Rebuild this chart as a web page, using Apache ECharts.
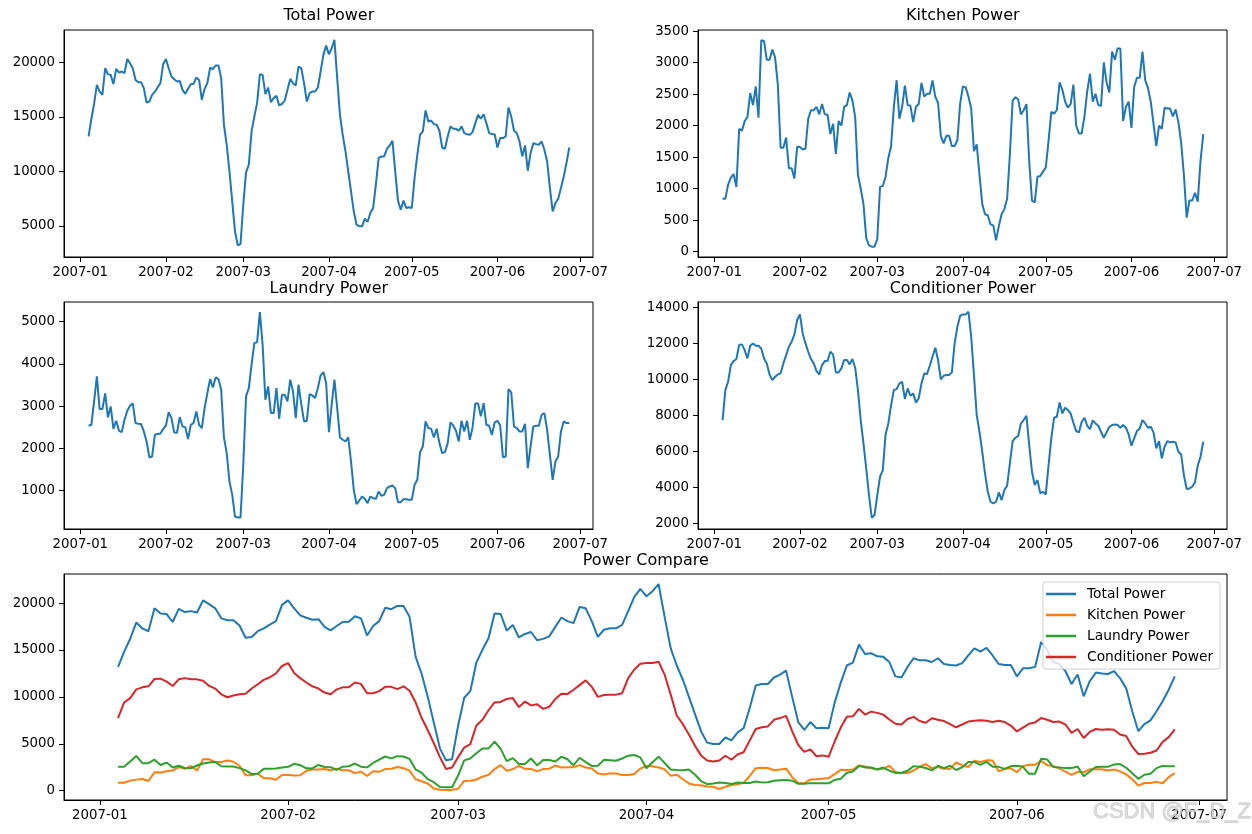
<!DOCTYPE html>
<html>
<head>
<meta charset="utf-8">
<title>Power</title>
<script src="https://cdn.jsdelivr.net/npm/echarts@6.0.0/dist/echarts.min.js"></script>
<style>
  html, body { margin: 0; padding: 0; background: #fff; }
  #chart { width: 1252px; height: 834px; }
</style>
</head>
<body>
<div id="chart"></div>
<script>
// daily values, first day 2007-01-04
const totalPower = [13200, 14800, 16200, 17930, 17300, 17000, 19450, 18900, 18840, 17990,
  19390, 19050, 19150, 19000, 20300, 19900, 19450, 18380, 18170, 18170,
  17620, 16310, 16400, 17010, 17300, 17710, 18080, 19820, 20300, 19450,
  18690, 18440, 18230, 18290, 17470, 17100, 17560, 17990, 18020, 18600,
  18380, 16550, 17560, 18080, 19510, 19360, 19700, 19700, 18540, 14270,
  12440, 10000, 7250, 4510, 3230, 3350, 6950, 9910, 10610, 13660,
  15030, 16250, 18900, 18840, 17070, 17680, 16340, 16710, 16920, 16040,
  16190, 16460, 17470, 18470, 18080, 17870, 19600, 19450, 18080, 16400,
  17160, 17320, 17320, 17680, 19150, 20670, 21520, 20730, 21280, 22040,
  18540, 15180, 13350, 11830, 10000, 8170, 6340, 5120, 4970, 4970,
  5670, 5370, 6190, 6650, 8780, 11220, 11370, 11370, 12070, 12380,
  12800, 10000, 7320, 6490, 7320, 6650, 6710, 6650, 9390, 11520,
  13350, 13660, 15580, 14570, 14660, 14330, 14270, 13720, 12190, 12070,
  13200, 14120, 13900, 13900, 13720, 14120, 13510, 13410, 13350, 13600,
  14420, 15180, 14820, 15240, 14420, 13510, 13410, 13410, 12190, 13050,
  13050, 13200, 15850, 15030, 13720, 13510, 12740, 11370, 12380, 10060,
  11670, 12590, 12500, 12440, 12740, 11980, 10910, 8470, 6340, 7100,
  7500, 8470, 9540, 10760, 12190];

const kitchenPower = [839, 839, 1066, 1174, 1233, 1028, 1948, 1921, 2072, 2137,
  2516, 2326, 2624, 2126, 3354, 3343, 3046, 3046, 3208, 3084,
  2651, 1650, 1650, 1812, 1325, 1325, 1163, 1666, 1661, 1623,
  1634, 2110, 2245, 2245, 2299, 2180, 2343, 2180, 2175, 1866,
  2029, 1553, 2072, 2002, 2299, 2326, 2526, 2397, 2137, 1217,
  1001, 757, 216, 100, 80, 80, 200, 1028, 1044, 1190,
  1488, 1677, 2299, 2721, 2110, 2299, 2635, 2326, 2315, 2056,
  2299, 2343, 2678, 2462, 2505, 2505, 2716, 2462, 2364, 1839,
  1720, 1839, 1839, 1677, 1677, 1769, 2350, 2624, 2608, 2462,
  2272, 1596, 1704, 1217, 757, 595, 579, 433, 417, 179,
  406, 595, 676, 839, 1542, 2397, 2451, 2418, 2180, 2245,
  2343, 1434, 812, 784, 1190, 1201, 1271, 1336, 1758, 2218,
  2191, 2245, 2689, 2570, 2380, 2288, 2343, 2651, 2002, 1877,
  1877, 2148, 2543, 2824, 2380, 2505, 2326, 2315, 3003, 2689,
  2526, 3176, 3046, 3230, 3219, 2072, 2299, 2380, 1964, 2613,
  2759, 2759, 3176, 2721, 2597, 2380, 2029, 1677, 2002, 1948,
  2283, 2272, 2272, 2148, 2256, 2056, 1731, 1217, 541, 812,
  812, 936, 795, 1434, 1866];

const laundryPower = [2535, 2558, 3110, 3702, 2929, 2929, 3300, 2732, 2992, 2464,
  2653, 2416, 2385, 2677, 2890, 3008, 3063, 2598, 2582, 2574,
  2401, 2164, 1786, 1809, 2322, 2338, 2353, 2456, 2543, 2858,
  2716, 2377, 2369, 2740, 2519, 2503, 2219, 2558, 2598, 2874,
  2558, 2480, 2953, 3308, 3639, 3442, 3678, 3639, 3386, 2259,
  1888, 1218, 902, 390, 366, 366, 1612, 3229, 3426, 3978,
  4490, 4506, 5224, 4451, 3150, 3465, 2834, 2834, 3426, 2700,
  3268, 3268, 3110, 3623, 3347, 2716, 3505, 3047, 2637, 2653,
  3284, 3252, 3189, 3426, 3726, 3804, 3544, 2385, 3032, 3623,
  2953, 2259, 2204, 2164, 2259, 1691, 1021, 682, 768, 863,
  808, 705, 863, 823, 808, 981, 879, 902, 1060, 1100,
  1123, 1060, 729, 729, 800, 800, 784, 784, 1139, 1257,
  1912, 2046, 2637, 2480, 2464, 2259, 2464, 2125, 1888, 1912,
  2125, 2614, 2543, 2416, 2164, 2653, 2401, 2653, 2204, 2495,
  3063, 3063, 2756, 3071, 2558, 2535, 2322, 2614, 2653, 2543,
  1793, 1809, 3402, 3323, 2519, 2480, 2401, 2401, 2582, 1533,
  2046, 2519, 2535, 2535, 2795, 2834, 2440, 1849, 1257, 1691,
  1809, 2401, 2637, 2598, 2598];

const conditionerPower = [7741, 9407, 9870, 10796, 11019, 11130, 11908, 11945, 11630, 11167,
  11871, 12000, 11871, 11871, 11722, 11167, 10889, 10278, 9963, 10148,
  10278, 10333, 10889, 11352, 11815, 12093, 12500, 13297, 13611, 12556,
  12000, 11537, 11130, 10889, 10463, 10278, 10796, 11019, 11019, 11537,
  11389, 10389, 10389, 10611, 11074, 11074, 10833, 11130, 10648, 9407,
  7741, 6444, 5055, 3574, 2315, 2463, 3574, 4593, 4963, 6944,
  7555, 8574, 9407, 9463, 9778, 9870, 8907, 9500, 9093, 9222,
  8722, 8944, 9778, 10333, 10296, 10759, 11259, 11759, 11074, 10000,
  10204, 10241, 10241, 10389, 12000, 12926, 13537, 13611, 13611, 13759,
  12370, 10241, 8018, 7092, 5981, 4778, 3759, 3204, 3111, 3204,
  3722, 3296, 3852, 4093, 5333, 6574, 6759, 6852, 7555, 7741,
  7981, 6352, 4870, 4130, 4407, 3667, 3759, 3611, 5241, 6722,
  7870, 7926, 8722, 8111, 8426, 8296, 8111, 7593, 7130, 7055,
  7648, 7870, 7426, 7241, 7722, 7555, 7426, 7092, 6759, 7055,
  7370, 7463, 7500, 7463, 7315, 7463, 7315, 6944, 6315, 6722,
  7130, 7278, 7741, 7555, 7315, 7370, 7055, 6167, 6574, 5611,
  6259, 6574, 6500, 6537, 6500, 5981, 5833, 4685, 3907, 3944,
  4037, 4278, 5204, 5704, 6537];

const seriesNames = ['Total Power', 'Kitchen Power', 'Laundry Power', 'Conditioner Power'];
const monthTicks = ['2007-01', '2007-02', '2007-03', '2007-04', '2007-05', '2007-06', '2007-07'];
const totalTicks = [5000, 10000, 15000, 20000];
const kitchenTicks = [0, 500, 1000, 1500, 2000, 2500, 3000, 3500];
const laundryTicks = [1000, 2000, 3000, 4000, 5000];
const conditionerTicks = [2000, 4000, 6000, 8000, 10000, 12000, 14000];
const compareTicks = [0, 5000, 10000, 15000, 20000];

const DAY = 86400000;
const firstDay = Date.UTC(2007, 0, 4);
const dates = totalPower.map((v, i) => firstDay + i * DAY);
const monthValues = monthTicks.map(s => Date.UTC(+s.slice(0, 4), +s.slice(5) - 1, 1));
const xMin = Date.UTC(2007, 0, 1) - 5.9 * DAY;
const xMax = Date.UTC(2007, 6, 1) + 4.6 * DAY;

const FONT = 'DejaVu Sans';
const colors = ['#1f77b4', '#ff7f0e', '#2ca02c', '#d62728'];

function pad2(n) {
  return n < 10 ? '0' + n : '' + n;
}

// x uses plain millisecond values, labelled only at month starts
function xAxisFor(gridIndex) {
  return {
    type: 'value', gridIndex: gridIndex, min: xMin, max: xMax, scale: true,
    axisLine: { show: true, onZero: false, lineStyle: { color: '#000', width: 1 } },
    axisTick: { show: true, length: 5, customValues: monthValues, lineStyle: { color: '#000' } },
    axisLabel: {
      customValues: monthValues, color: '#000', fontSize: 13.3, fontFamily: FONT, margin: 9,
      showMinLabel: true, showMaxLabel: true,
      formatter: v => {
        const d = new Date(v);
        return d.getUTCFullYear() + '-' + pad2(d.getUTCMonth() + 1);
      }
    },
    splitLine: { show: false }
  };
}

function yAxisFor(gridIndex, min, max, ticks) {
  return {
    type: 'value', gridIndex: gridIndex, min: min, max: max,
    axisLine: { show: true, onZero: false, lineStyle: { color: '#000', width: 1 } },
    axisTick: { show: true, length: 5, customValues: ticks, lineStyle: { color: '#000' } },
    axisLabel: { customValues: ticks, color: '#000', fontSize: 13.3, fontFamily: FONT, margin: 9, formatter: v => String(v) },
    splitLine: { show: false }
  };
}

function lineSeries(name, values, color, idx) {
  return {
    name: name, type: 'line', xAxisIndex: idx, yAxisIndex: idx,
    data: values.map((v, i) => [dates[i], v]),
    symbol: 'none', showSymbol: false,
    lineStyle: { width: 2, color: color }, itemStyle: { color: color },
    emphasis: { disabled: true }
  };
}

function titleText(text, x, y) {
  return {
    type: 'text', x: x, y: y, silent: true,
    style: { text: text, font: '16px "DejaVu Sans"', fill: '#000', align: 'center', verticalAlign: 'middle', textAlign: 'center', textVerticalAlign: 'middle' }
  };
}

const grids = [
  { left: 64, top: 30, width: 529, height: 227 },
  { left: 698, top: 30, width: 529, height: 227 },
  { left: 64, top: 302, width: 529, height: 227 },
  { left: 698, top: 302, width: 529, height: 227 },
  { left: 64, top: 574, width: 1163, height: 226 }
].map(g => Object.assign({ show: true, borderColor: '#000', borderWidth: 1, backgroundColor: 'transparent', containLabel: false }, g));

const allValues = [totalPower, kitchenPower, laundryPower, conditionerPower];

const series = [
  lineSeries('Total Power (panel)', totalPower, colors[0], 0),
  lineSeries('Kitchen Power (panel)', kitchenPower, colors[0], 1),
  lineSeries('Laundry Power (panel)', laundryPower, colors[0], 2),
  lineSeries('Conditioner Power (panel)', conditionerPower, colors[0], 3)
];
seriesNames.forEach((name, i) => series.push(lineSeries(name, allValues[i], colors[i], 4)));

const option = {
  animation: false,
  backgroundColor: '#fff',
  grid: grids,
  xAxis: [0, 1, 2, 3, 4].map(xAxisFor),
  yAxis: [
    yAxisFor(0, 2160, 22950, totalTicks),
    yAxisFor(1, -84, 3518, kitchenTicks),
    yAxisFor(2, 95, 5460, laundryTicks),
    yAxisFor(3, 1690, 14300, conditionerTicks),
    yAxisFor(4, -1000, 23110, compareTicks)
  ],
  legend: {
    data: seriesNames, orient: 'vertical', left: 1043, top: 582,
    icon: 'rect', itemWidth: 30, itemHeight: 2.5, itemGap: 7,
    padding: [5, 7, 5, 3],
    borderColor: '#d0d0d0', borderWidth: 1, borderRadius: 3,
    backgroundColor: 'rgba(255,255,255,0.8)',
    textStyle: { color: '#000', fontSize: 13.8, fontFamily: FONT, lineHeight: 14, padding: [0, 0, 0, 6] },
    selectedMode: false
  },
  series: series,
  graphic: [
    titleText('Total Power', 328.8, 16),
    titleText('Kitchen Power', 962.8, 16),
    titleText('Laundry Power', 328.8, 289),
    titleText('Conditioner Power', 962.8, 289),
    titleText('Power Compare', 645.8, 561),
    {
      type: 'text', x: 1093, y: 812, z: 100, silent: true,
      style: { text: 'CSDN @F_D_Z', font: '22px "Liberation Sans"', fill: 'rgba(215,215,215,0.8)', stroke: 'rgba(160,160,160,0.6)', lineWidth: 0.8, verticalAlign: 'middle', textVerticalAlign: 'middle' }
    }
  ]
};

let chart = echarts.init(document.getElementById('chart'));
chart.setOption(option);
</script>
</body>
</html>
